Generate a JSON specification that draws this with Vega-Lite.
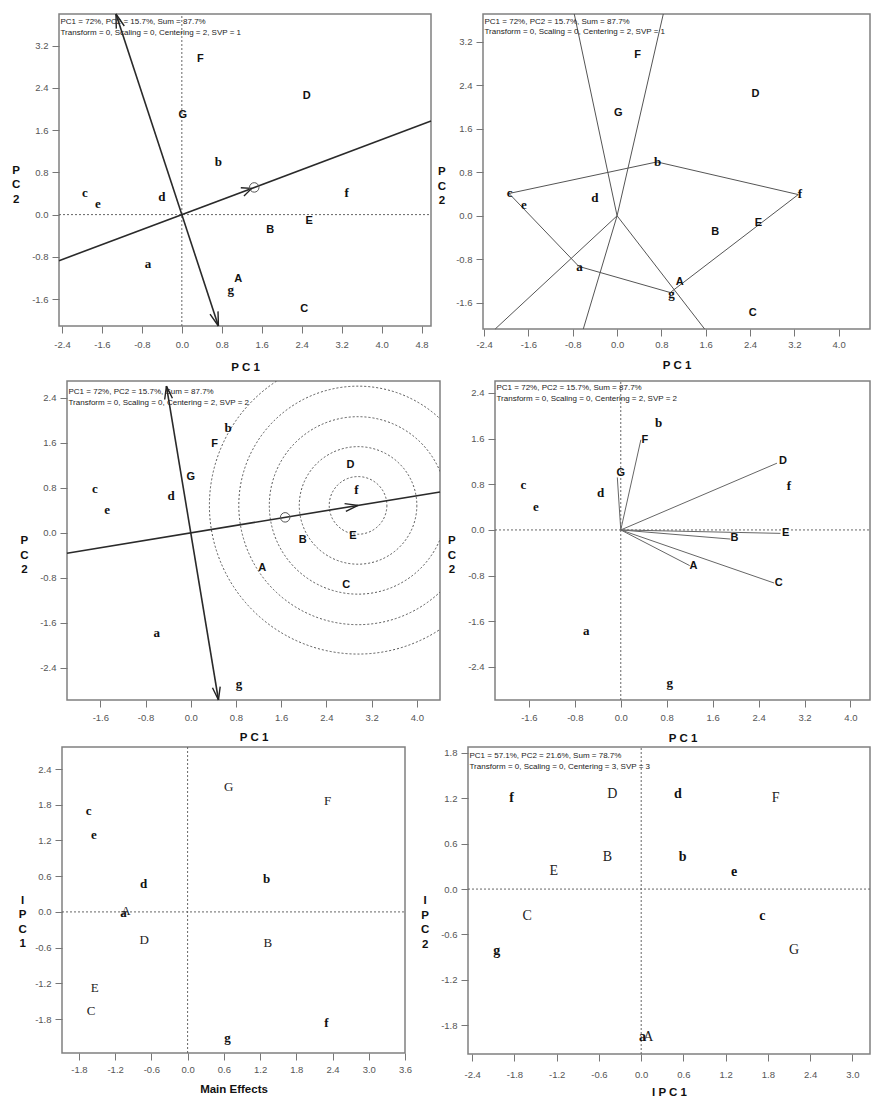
{
"$schema": "https://vega.github.io/schema/vega-lite/v6.json",
"padding": 0,
"background": "white",
"spacing": 0,
"config": {
 "view": {"stroke": "#808080", "strokeWidth": 1.5},
 "axis": {"grid": false, "domain": false, "tickColor": "#777", "tickSize": 7, "tickWidth": 1, "labelFont": "Liberation Sans", "labelFontSize": 9.5, "labelColor": "#555", "labelFlush": false, "labelOverlap": false, "titleFont": "Liberation Sans", "titleFontSize": 11.5, "titleFontWeight": "bold", "titleColor": "#111"},
 "axisX": {"labelPadding": 6, "titlePadding": 10},
 "axisY": {"labelPadding": 4, "titleAngle": 0, "titleAlign": "center", "titleBaseline": "middle", "titleLineHeight": 14.5, "titlePadding": -13}
},
"datasets": {
 "bp1": [
  {"label": "A", "type": "E", "x": 1.13, "y": -1.22},
  {"label": "B", "type": "E", "x": 1.77, "y": -0.30},
  {"label": "C", "type": "E", "x": 2.45, "y": -1.78},
  {"label": "D", "type": "E", "x": 2.50, "y": 2.24},
  {"label": "E", "type": "E", "x": 2.55, "y": -0.13},
  {"label": "F", "type": "E", "x": 0.37, "y": 2.95},
  {"label": "G", "type": "E", "x": 0.02, "y": 1.88},
  {"label": "a", "type": "G", "x": -0.68, "y": -0.94},
  {"label": "b", "type": "G", "x": 0.73, "y": 0.99},
  {"label": "c", "type": "G", "x": -1.94, "y": 0.41},
  {"label": "d", "type": "G", "x": -0.40, "y": 0.33},
  {"label": "e", "type": "G", "x": -1.68, "y": 0.20},
  {"label": "f", "type": "G", "x": 3.30, "y": 0.40},
  {"label": "g", "type": "G", "x": 0.98, "y": -1.43}
 ],
 "bp3": [
  {"label": "A", "type": "E", "x": 1.265, "y": -0.63},
  {"label": "B", "type": "E", "x": 1.98, "y": -0.135},
  {"label": "C", "type": "E", "x": 2.75, "y": -0.93},
  {"label": "D", "type": "E", "x": 2.825, "y": 1.20},
  {"label": "E", "type": "E", "x": 2.87, "y": -0.05},
  {"label": "F", "type": "E", "x": 0.42, "y": 1.58},
  {"label": "G", "type": "E", "x": 0.00, "y": 0.99},
  {"label": "a", "type": "G", "x": -0.60, "y": -1.775},
  {"label": "b", "type": "G", "x": 0.66, "y": 1.87},
  {"label": "c", "type": "G", "x": -1.695, "y": 0.785},
  {"label": "d", "type": "G", "x": -0.35, "y": 0.65},
  {"label": "e", "type": "G", "x": -1.48, "y": 0.405},
  {"label": "f", "type": "G", "x": 2.93, "y": 0.765},
  {"label": "g", "type": "G", "x": 0.855, "y": -2.685}
 ],
 "ammi": [
  {"label": "A", "type": "E", "x": -1.02, "y": 0.02},
  {"label": "B", "type": "E", "x": 1.33, "y": -0.52},
  {"label": "C", "type": "E", "x": -1.60, "y": -1.67},
  {"label": "D", "type": "E", "x": -0.72, "y": -0.47},
  {"label": "E", "type": "E", "x": -1.54, "y": -1.28},
  {"label": "F", "type": "E", "x": 2.32, "y": 1.86},
  {"label": "G", "type": "E", "x": 0.68, "y": 2.10},
  {"label": "a", "type": "G", "x": -1.06, "y": -0.02},
  {"label": "b", "type": "G", "x": 1.31, "y": 0.55},
  {"label": "c", "type": "G", "x": -1.64, "y": 1.70},
  {"label": "d", "type": "G", "x": -0.73, "y": 0.47},
  {"label": "e", "type": "G", "x": -1.55, "y": 1.29},
  {"label": "f", "type": "G", "x": 2.30, "y": -1.86},
  {"label": "g", "type": "G", "x": 0.66, "y": -2.12}
 ],
 "ammi2": [
  {"label": "A", "type": "E", "x": 0.10, "y": -1.95},
  {"label": "B", "type": "E", "x": -0.48, "y": 0.43},
  {"label": "C", "type": "E", "x": -1.62, "y": -0.35},
  {"label": "D", "type": "E", "x": -0.41, "y": 1.26},
  {"label": "E", "type": "E", "x": -1.24, "y": 0.24},
  {"label": "F", "type": "E", "x": 1.91, "y": 1.21},
  {"label": "G", "type": "E", "x": 2.17, "y": -0.81},
  {"label": "a", "type": "G", "x": 0.02, "y": -1.96},
  {"label": "b", "type": "G", "x": 0.59, "y": 0.43},
  {"label": "c", "type": "G", "x": 1.72, "y": -0.36},
  {"label": "d", "type": "G", "x": 0.52, "y": 1.26},
  {"label": "e", "type": "G", "x": 1.32, "y": 0.23},
  {"label": "f", "type": "G", "x": -1.84, "y": 1.21},
  {"label": "g", "type": "G", "x": -2.05, "y": -0.82}
 ]
},
"vconcat": [
 {"width": 1, "height": 9.7, "view": {"stroke": null}, "data": {"values": []}, "mark": "text", "encoding": {}},
 {"hconcat": [
  {"width": 59, "height": 364.3, "view": {"stroke": null}, "data": {"values": []}, "mark": "text", "encoding": {}},
  {"width": 372, "height": 312,
   "encoding": {
    "x": {"field": "x", "type": "quantitative", "scale": {"domain": [-2.46, 4.99], "nice": false, "zero": false}, "axis": {"title": "P C 1", "values": [-2.4, -1.6, -0.8, 0, 0.8, 1.6, 2.4, 3.2, 4, 4.8], "labelExpr": "(datum.value < 0 ? '-' : '') + format(abs(datum.value), '.1f')", "labelPadding": 6, "titlePadding": 12.5}},
    "y": {"field": "y", "type": "quantitative", "scale": {"domain": [-2.11, 3.8], "nice": false, "zero": false}, "axis": {"title": ["P", "C", "2"], "values": [-1.6, -0.8, 0, 0.8, 1.6, 2.4, 3.2], "labelExpr": "(datum.value < 0 ? '-' : '') + format(abs(datum.value), '.1f')", "titlePadding": -13}}
   },
   "layer": [
    {"data": {"values": [{"x": 0, "y": -2.11, "x2": 0, "y2": 3.8}, {"x": -2.46, "y": 0, "x2": 4.99, "y2": 0}]},
     "mark": {"type": "rule", "color": "#666", "strokeDash": [2, 2], "strokeWidth": 1},
     "encoding": {"x2": {"field": "x2"}, "y2": {"field": "y2"}}},
    {"data": {"values": [{"x": -2.46, "y": -0.8733, "x2": 4.99, "y2": 1.7715}, {"x": -1.3194, "y": 3.8, "x2": 0.7326, "y2": -2.11}]},
     "mark": {"type": "rule", "color": "#2a2a2a", "strokeWidth": 1.6},
     "encoding": {"x2": {"field": "x2"}, "y2": {"field": "y2"}}},
    {"data": {"values": [{"x": 1.40, "y": 0.497}]},
     "mark": {"type": "point", "shape": "M0,0L-1,-0.45M0,0L-1,0.45", "angle": 339.4, "size": 400, "filled": false, "color": "#222", "strokeWidth": 1.4, "opacity": 1},
     "encoding": {}},
    {"data": {"values": [{"x": -1.3194, "y": 3.8}]},
     "mark": {"type": "point", "shape": "M0,0L-1,-0.3M0,0L-1,0.3", "angle": 251.9, "size": 784, "filled": false, "color": "#222", "strokeWidth": 1.4, "opacity": 1},
     "encoding": {}},
    {"data": {"values": [{"x": 0.7326, "y": -2.11}]},
     "mark": {"type": "point", "shape": "M0,0L-1,-0.3M0,0L-1,0.3", "angle": 71.7, "size": 784, "filled": false, "color": "#222", "strokeWidth": 1.4, "opacity": 1},
     "encoding": {}},
    {"data": {"values": [{"x": 1.45, "y": 0.515}]},
     "mark": {"type": "point", "shape": "circle", "filled": false, "size": 90, "color": "#555", "strokeWidth": 1, "opacity": 1},
     "encoding": {}},
    {"data": {"name": "bp1"}, "transform": [{"filter": "datum.type == 'E'"}],
     "mark": {"type": "text", "font": "Liberation Sans", "fontWeight": "bold", "fontSize": 11, "color": "#111", "align": "center", "baseline": "middle"},
     "encoding": {"text": {"field": "label", "type": "nominal"}}},
    {"data": {"name": "bp1"}, "transform": [{"filter": "datum.type == 'G'"}],
     "mark": {"type": "text", "font": "Liberation Serif", "fontWeight": "bold", "fontSize": 13, "color": "#111", "align": "center", "baseline": "middle"},
     "encoding": {"text": {"field": "label", "type": "nominal"}}},
    {"data": {"values": [{"x": -2.46, "y": 3.8, "t": "PC1 = 72%, PC2 = 15.7%, Sum = 87.7%"}]},
     "mark": {"type": "text", "align": "left", "baseline": "top", "dx": 1.5, "dy": 3.9, "font": "Liberation Sans", "fontSize": 8, "color": "#222"},
     "encoding": {"text": {"field": "t", "type": "nominal"}}},
    {"data": {"values": [{"x": -2.46, "y": 3.8, "t": "Transform = 0, Scaling = 0, Centering = 2, SVP = 1"}]},
     "mark": {"type": "text", "align": "left", "baseline": "top", "dx": 1.5, "dy": 15.2, "font": "Liberation Sans", "fontSize": 8, "color": "#222"},
     "encoding": {"text": {"field": "t", "type": "nominal"}}}
   ]},
  {"width": 52, "height": 1, "view": {"stroke": null}, "data": {"values": []}, "mark": "text", "encoding": {}},
  {"width": 387, "height": 315,
   "encoding": {
    "x": {"field": "x", "type": "quantitative", "scale": {"domain": [-2.42, 4.565], "nice": false, "zero": false}, "axis": {"title": "P C 1", "values": [-2.4, -1.6, -0.8, 0, 0.8, 1.6, 2.4, 3.2, 4], "labelExpr": "(datum.value < 0 ? '-' : '') + format(abs(datum.value), '.1f')", "labelPadding": 3, "titlePadding": 11}},
    "y": {"field": "y", "type": "quantitative", "scale": {"domain": [-2.08, 3.708], "nice": false, "zero": false}, "axis": {"title": ["P", "C", "2"], "values": [-1.6, -0.8, 0, 0.8, 1.6, 2.4, 3.2], "labelExpr": "(datum.value < 0 ? '-' : '') + format(abs(datum.value), '.1f')", "titlePadding": -14.7}}
   },
   "layer": [
    {"data": {"values": [{"x": -1.95, "y": 0.41, "o": 1}, {"x": 0.72, "y": 0.99, "o": 2}, {"x": 3.27, "y": 0.39, "o": 3}, {"x": 0.96, "y": -1.41, "o": 4}, {"x": -0.69, "y": -0.93, "o": 5}, {"x": -1.95, "y": 0.41, "o": 6}]},
     "mark": {"type": "line", "color": "#555", "strokeWidth": 1},
     "encoding": {"order": {"field": "o", "type": "quantitative"}}},
    {"data": {"values": [{"x": 0, "y": 0, "x2": -0.773, "y2": 3.708}, {"x": 0, "y": 0, "x2": 0.834, "y2": 3.708}, {"x": 0, "y": 0, "x2": 1.58, "y2": -2.08}, {"x": 0, "y": 0, "x2": -0.61, "y2": -2.08}, {"x": 0, "y": 0, "x2": -2.2, "y2": -2.08}]},
     "mark": {"type": "rule", "color": "#555", "strokeWidth": 1},
     "encoding": {"x2": {"field": "x2"}, "y2": {"field": "y2"}}},
    {"data": {"name": "bp1"}, "transform": [{"filter": "datum.type == 'E'"}],
     "mark": {"type": "text", "font": "Liberation Sans", "fontWeight": "bold", "fontSize": 11, "color": "#111", "align": "center", "baseline": "middle"},
     "encoding": {"text": {"field": "label", "type": "nominal"}}},
    {"data": {"name": "bp1"}, "transform": [{"filter": "datum.type == 'G'"}],
     "mark": {"type": "text", "font": "Liberation Serif", "fontWeight": "bold", "fontSize": 13, "color": "#111", "align": "center", "baseline": "middle"},
     "encoding": {"text": {"field": "label", "type": "nominal"}}},
    {"data": {"values": [{"x": -2.42, "y": 3.708, "t": "PC1 = 72%, PC2 = 15.7%, Sum = 87.7%"}]},
     "mark": {"type": "text", "align": "left", "baseline": "top", "dx": 1.5, "dy": 3.6, "font": "Liberation Sans", "fontSize": 8, "color": "#222"},
     "encoding": {"text": {"field": "t", "type": "nominal"}}},
    {"data": {"values": [{"x": -2.42, "y": 3.708, "t": "Transform = 0, Scaling = 0, Centering = 2, SVP = 1"}]},
     "mark": {"type": "text", "align": "left", "baseline": "top", "dx": 1.5, "dy": 13.6, "font": "Liberation Sans", "fontSize": 8, "color": "#222"},
     "encoding": {"text": {"field": "t", "type": "nominal"}}}
   ]}
 ], "spacing": 0, "bounds": "flush"},
 {"hconcat": [
  {"width": 67, "height": 364, "view": {"stroke": null}, "data": {"values": []}, "mark": "text", "encoding": {}},
  {"width": 373, "height": 319,
   "encoding": {
    "x": {"field": "x", "type": "quantitative", "scale": {"domain": [-2.19, 4.41], "nice": false, "zero": false}, "axis": {"title": "P C 1", "values": [-1.6, -0.8, 0, 0.8, 1.6, 2.4, 3.2, 4], "labelExpr": "(datum.value < 0 ? '-' : '') + format(abs(datum.value), '.1f')", "labelPadding": 5.7, "titlePadding": 9.3}},
    "y": {"field": "y", "type": "quantitative", "scale": {"domain": [-2.97, 2.699], "nice": false, "zero": false}, "axis": {"title": ["P", "C", "2"], "values": [-2.4, -1.6, -0.8, 0, 0.8, 1.6, 2.4], "labelExpr": "(datum.value < 0 ? '-' : '') + format(abs(datum.value), '.1f')", "titlePadding": -13.3}}
   },
   "layer": [
    {"data": {"values": [{"x": 2.96, "y": 0.488, "r": 0.51}, {"x": 2.96, "y": 0.488, "r": 1.04}, {"x": 2.96, "y": 0.488, "r": 1.57}, {"x": 2.96, "y": 0.488, "r": 2.11}, {"x": 2.96, "y": 0.488, "r": 2.63}]},
     "mark": {"type": "point", "shape": "circle", "filled": false, "clip": true, "color": "#555", "strokeWidth": 1, "strokeDash": [2, 2], "opacity": 1},
     "encoding": {"size": {"field": "r", "type": "quantitative", "scale": {"type": "pow", "exponent": 2, "domain": [0, 1], "range": [0, 12778]}, "legend": null}}},
    {"data": {"values": [{"x": -2.19, "y": -0.3614, "x2": 4.41, "y2": 0.7277}, {"x": -0.4307, "y": 2.61, "x2": 0.4901, "y2": -2.97}]},
     "mark": {"type": "rule", "color": "#2a2a2a", "strokeWidth": 1.6},
     "encoding": {"x2": {"field": "x2"}, "y2": {"field": "y2"}}},
    {"data": {"values": [{"x": 2.96, "y": 0.488}]},
     "mark": {"type": "point", "shape": "M0,0L-1,-0.3M0,0L-1,0.3", "angle": 350.7, "size": 676, "filled": false, "color": "#222", "strokeWidth": 1.4, "opacity": 1},
     "encoding": {}},
    {"data": {"values": [{"x": -0.4307, "y": 2.61}]},
     "mark": {"type": "point", "shape": "M0,0L-1,-0.3M0,0L-1,0.3", "angle": 260.6, "size": 676, "filled": false, "color": "#222", "strokeWidth": 1.4, "opacity": 1},
     "encoding": {}},
    {"data": {"values": [{"x": 0.4901, "y": -2.97}]},
     "mark": {"type": "point", "shape": "M0,0L-1,-0.3M0,0L-1,0.3", "angle": 80.6, "size": 676, "filled": false, "color": "#222", "strokeWidth": 1.4, "opacity": 1},
     "encoding": {}},
    {"data": {"values": [{"x": 1.67, "y": 0.276}]},
     "mark": {"type": "point", "shape": "circle", "filled": false, "size": 90, "color": "#555", "strokeWidth": 1, "opacity": 1},
     "encoding": {}},
    {"data": {"name": "bp3"}, "transform": [{"filter": "datum.type == 'E'"}],
     "mark": {"type": "text", "font": "Liberation Sans", "fontWeight": "bold", "fontSize": 11, "color": "#111", "align": "center", "baseline": "middle"},
     "encoding": {"text": {"field": "label", "type": "nominal"}}},
    {"data": {"name": "bp3"}, "transform": [{"filter": "datum.type == 'G'"}],
     "mark": {"type": "text", "font": "Liberation Serif", "fontWeight": "bold", "fontSize": 13, "color": "#111", "align": "center", "baseline": "middle"},
     "encoding": {"text": {"field": "label", "type": "nominal"}}},
    {"data": {"values": [{"x": -2.19, "y": 2.699, "t": "PC1 = 72%, PC2 = 15.7%, Sum = 87.7%"}]},
     "mark": {"type": "text", "align": "left", "baseline": "top", "dx": 1.5, "dy": 6.9, "font": "Liberation Sans", "fontSize": 8, "color": "#222"},
     "encoding": {"text": {"field": "t", "type": "nominal"}}},
    {"data": {"values": [{"x": -2.19, "y": 2.699, "t": "Transform = 0, Scaling = 0, Centering = 2, SVP = 2"}]},
     "mark": {"type": "text", "align": "left", "baseline": "top", "dx": 1.5, "dy": 17.9, "font": "Liberation Sans", "fontSize": 8, "color": "#222"},
     "encoding": {"text": {"field": "t", "type": "nominal"}}}
   ]},
  {"width": 55, "height": 1, "view": {"stroke": null}, "data": {"values": []}, "mark": "text", "encoding": {}},
  {"width": 375, "height": 319,
   "encoding": {
    "x": {"field": "x", "type": "quantitative", "scale": {"domain": [-2.19, 4.34], "nice": false, "zero": false}, "axis": {"title": "P C 1", "values": [-1.6, -0.8, 0, 0.8, 1.6, 2.4, 3.2, 4], "labelExpr": "(datum.value < 0 ? '-' : '') + format(abs(datum.value), '.1f')", "labelPadding": 5.7, "titlePadding": 10.3}},
    "y": {"field": "y", "type": "quantitative", "scale": {"domain": [-2.98, 2.61], "nice": false, "zero": false}, "axis": {"title": ["P", "C", "2"], "values": [-2.4, -1.6, -0.8, 0, 0.8, 1.6, 2.4], "labelExpr": "(datum.value < 0 ? '-' : '') + format(abs(datum.value), '.1f')", "titlePadding": -12.7}}
   },
   "layer": [
    {"data": {"values": [{"x": 0, "y": -2.98, "x2": 0, "y2": 2.61}, {"x": -2.19, "y": 0, "x2": 4.34, "y2": 0}]},
     "mark": {"type": "rule", "color": "#666", "strokeDash": [2, 2], "strokeWidth": 1},
     "encoding": {"x2": {"field": "x2"}, "y2": {"field": "y2"}}},
    {"data": {"values": [{"x": 0, "y": 0, "x2": 1.20, "y2": -0.625}, {"x": 0, "y": 0, "x2": 1.91, "y2": -0.16}, {"x": 0, "y": 0, "x2": 2.67, "y2": -0.93}, {"x": 0, "y": 0, "x2": 2.72, "y2": 1.17}, {"x": 0, "y": 0, "x2": 2.78, "y2": -0.06}, {"x": 0, "y": 0, "x2": 0.35, "y2": 1.58}, {"x": 0, "y": 0, "x2": -0.06, "y2": 0.92}]},
     "mark": {"type": "rule", "color": "#666", "strokeWidth": 1},
     "encoding": {"x2": {"field": "x2"}, "y2": {"field": "y2"}}},
    {"data": {"name": "bp3"}, "transform": [{"filter": "datum.type == 'E'"}],
     "mark": {"type": "text", "font": "Liberation Sans", "fontWeight": "bold", "fontSize": 11, "color": "#111", "align": "center", "baseline": "middle"},
     "encoding": {"text": {"field": "label", "type": "nominal"}}},
    {"data": {"name": "bp3"}, "transform": [{"filter": "datum.type == 'G'"}],
     "mark": {"type": "text", "font": "Liberation Serif", "fontWeight": "bold", "fontSize": 13, "color": "#111", "align": "center", "baseline": "middle"},
     "encoding": {"text": {"field": "label", "type": "nominal"}}},
    {"data": {"values": [{"x": -2.19, "y": 2.61, "t": "PC1 = 72%, PC2 = 15.7%, Sum = 87.7%"}]},
     "mark": {"type": "text", "align": "left", "baseline": "top", "dx": 1.5, "dy": 2.9, "font": "Liberation Sans", "fontSize": 8, "color": "#222"},
     "encoding": {"text": {"field": "t", "type": "nominal"}}},
    {"data": {"values": [{"x": -2.19, "y": 2.61, "t": "Transform = 0, Scaling = 0, Centering = 2, SVP = 2"}]},
     "mark": {"type": "text", "align": "left", "baseline": "top", "dx": 1.5, "dy": 14.2, "font": "Liberation Sans", "fontSize": 8, "color": "#222"},
     "encoding": {"text": {"field": "t", "type": "nominal"}}}
   ]}
 ], "spacing": 0, "bounds": "flush"},
 {"hconcat": [
  {"width": 62, "height": 1, "view": {"stroke": null}, "data": {"values": []}, "mark": "text", "encoding": {}},
  {"width": 343, "height": 306,
   "encoding": {
    "x": {"field": "x", "type": "quantitative", "scale": {"domain": [-2.08, 3.6], "nice": false, "zero": false}, "axis": {"title": "Main Effects", "values": [-1.8, -1.2, -0.6, 0, 0.6, 1.2, 1.8, 2.4, 3, 3.6], "labelExpr": "(datum.value < 0 ? '-' : '') + format(abs(datum.value), '.1f')", "labelPadding": 4, "titlePadding": 10}},
    "y": {"field": "y", "type": "quantitative", "scale": {"domain": [-2.37, 2.77], "nice": false, "zero": false}, "axis": {"title": ["I", "P", "C", "1"], "values": [-1.8, -1.2, -0.6, 0, 0.6, 1.2, 1.8, 2.4], "labelExpr": "(datum.value < 0 ? '-' : '') + format(abs(datum.value), '.1f')", "titlePadding": -31}}
   },
   "layer": [
    {"data": {"values": [{"x": 0, "y": -2.37, "x2": 0, "y2": 2.77}, {"x": -2.08, "y": 0, "x2": 3.6, "y2": 0}]},
     "mark": {"type": "rule", "color": "#666", "strokeDash": [2, 2], "strokeWidth": 1},
     "encoding": {"x2": {"field": "x2"}, "y2": {"field": "y2"}}},
    {"data": {"name": "ammi"}, "transform": [{"filter": "datum.type == 'E'"}],
     "mark": {"type": "text", "font": "Liberation Serif", "fontWeight": "normal", "fontSize": 13, "color": "#222", "align": "center", "baseline": "middle"},
     "encoding": {"text": {"field": "label", "type": "nominal"}}},
    {"data": {"name": "ammi"}, "transform": [{"filter": "datum.type == 'G'"}],
     "mark": {"type": "text", "font": "Liberation Serif", "fontWeight": "bold", "fontSize": 13, "color": "#111", "align": "center", "baseline": "middle"},
     "encoding": {"text": {"field": "label", "type": "nominal"}}}
   ]},
  {"width": 63, "height": 1, "view": {"stroke": null}, "data": {"values": []}, "mark": "text", "encoding": {}},
  {"width": 402, "height": 307,
   "encoding": {
    "x": {"field": "x", "type": "quantitative", "scale": {"domain": [-2.46, 3.25], "nice": false, "zero": false}, "axis": {"title": "I P C 1", "values": [-2.4, -1.8, -1.2, -0.6, 0, 0.6, 1.2, 1.8, 2.4, 3], "labelExpr": "(datum.value < 0 ? '-' : '') + format(abs(datum.value), '.1f')", "labelPadding": 8, "titlePadding": 8}},
    "y": {"field": "y", "type": "quantitative", "scale": {"domain": [-2.18, 1.878], "nice": false, "zero": false}, "axis": {"title": ["I", "P", "C", "2"], "values": [-1.8, -1.2, -0.6, 0, 0.6, 1.2, 1.8], "labelExpr": "(datum.value < 0 ? '-' : '') + format(abs(datum.value), '.1f')", "titlePadding": -27.5}}
   },
   "layer": [
    {"data": {"values": [{"x": 0, "y": -2.18, "x2": 0, "y2": 1.878}, {"x": -2.46, "y": 0, "x2": 3.25, "y2": 0}]},
     "mark": {"type": "rule", "color": "#666", "strokeDash": [2, 2], "strokeWidth": 1},
     "encoding": {"x2": {"field": "x2"}, "y2": {"field": "y2"}}},
    {"data": {"name": "ammi2"}, "transform": [{"filter": "datum.type == 'E'"}],
     "mark": {"type": "text", "font": "Liberation Serif", "fontWeight": "normal", "fontSize": 14, "color": "#222", "align": "center", "baseline": "middle"},
     "encoding": {"text": {"field": "label", "type": "nominal"}}},
    {"data": {"name": "ammi2"}, "transform": [{"filter": "datum.type == 'G'"}],
     "mark": {"type": "text", "font": "Liberation Serif", "fontWeight": "bold", "fontSize": 14, "color": "#111", "align": "center", "baseline": "middle"},
     "encoding": {"text": {"field": "label", "type": "nominal"}}},
    {"data": {"values": [{"x": -2.46, "y": 1.878, "t": "PC1 = 57.1%, PC2 = 21.6%, Sum = 78.7%"}]},
     "mark": {"type": "text", "align": "left", "baseline": "top", "dx": 1.5, "dy": 5.2, "font": "Liberation Sans", "fontSize": 8, "color": "#222"},
     "encoding": {"text": {"field": "t", "type": "nominal"}}},
    {"data": {"values": [{"x": -2.46, "y": 1.878, "t": "Transform = 0, Scaling = 0, Centering = 3, SVP = 3"}]},
     "mark": {"type": "text", "align": "left", "baseline": "top", "dx": 1.5, "dy": 15.9, "font": "Liberation Sans", "fontSize": 8, "color": "#222"},
     "encoding": {"text": {"field": "t", "type": "nominal"}}}
   ]}
 ], "spacing": 0, "bounds": "flush"}
]
}
